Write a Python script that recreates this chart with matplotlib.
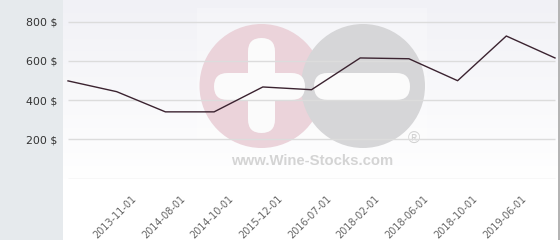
import numpy as np
import matplotlib
matplotlib.use("Agg")
import matplotlib.pyplot as plt
import matplotlib.transforms as mtransforms
from matplotlib.patches import Rectangle, Circle, FancyBboxPatch

# price history (one point per listing, equally spaced)
prices = [498, 443, 340, 340, 467, 453, 615, 611, 499, 727, 615]
date_labels = ["2013-11-01", "2014-08-01", "2014-10-01", "2015-12-01", "2016-07-01",
               "2018-02-01", "2018-06-01", "2018-10-01", "2019-06-01"]
y_ticks = [200, 400, 600, 800]
grid_levels = [0, 200, 400, 600, 800]

W, H = 560, 240
fig = plt.figure(figsize=(W / 100, H / 100), dpi=100)
fig.patch.set_facecolor("white")

# grey panel on the left behind the y labels
fig.patches.append(Rectangle((0, 0), 63 / W, 1, transform=fig.transFigure,
                             facecolor="#e6eaed", edgecolor="none", zorder=-1))
# thin border on the right
fig.patches.append(Rectangle((558 / W, 0), 1.5 / W, 1, transform=fig.transFigure,
                             facecolor="#b4b4b4", edgecolor="none", zorder=5))

ax = fig.add_axes([63 / W, 1 - 178.5 / H, (558 - 63) / W, 178.5 / H])
ax.set_facecolor("none")
n = len(prices)
x = np.arange(n)
ax.set_xlim(-5 / 48.7, (n - 1) + 3 / 48.7)
ax.set_ylim(0, 178.5 / 0.196)

# background gradient
grad = np.linspace(0, 1, 256).reshape(-1, 1)
cmap = matplotlib.colors.LinearSegmentedColormap.from_list("bg", ["#ffffff", "#f1f1f6"])
ax.imshow(grad, aspect="auto", cmap=cmap, extent=[0, 1, 0, 1],
          transform=ax.transAxes, origin="lower", zorder=0)

# watermark drawn in pixel coordinates
px = mtransforms.Affine2D().scale(1 / W, -1 / H).translate(0, 1) + fig.transFigure
ax.add_patch(Rectangle((197, 8), 230, 165, transform=px, facecolor="white",
                       edgecolor="none", alpha=0.25, zorder=1))
ax.add_patch(Circle((261.5, 86), 62, transform=px, facecolor="#ebd3da",
                    edgecolor="none", zorder=1))
ax.add_patch(Circle((363, 86), 62, transform=px, facecolor="#d6d6d8",
                    edgecolor="none", zorder=1.1))
for bx, by, bw, bh in [(248, 38, 27, 95), (214, 73, 91, 27), (314, 73, 96, 27)]:
    ax.add_patch(FancyBboxPatch((bx, by), bw, bh, transform=px,
                                boxstyle="round,pad=0,rounding_size=13.5",
                                facecolor="#fbfbfb", edgecolor="none", zorder=1.2))
ax.text(312.5, 161, "www.Wine-Stocks.com", transform=px, ha="center", va="center",
        fontsize=10.7, fontweight="bold", family="Liberation Sans", color="#d4d4d4", zorder=1.3)
ax.text(413.5, 139, "\u00ae", transform=px, ha="center", va="center",
        fontsize=12, family="Liberation Sans", color="#d2d2d2", zorder=1.3)

# grid lines span first to last point
ax.hlines(grid_levels, 0, n - 1, colors="#dcdcdc", linewidth=1, zorder=2)
ax.plot(x, prices, color="#3b2330", linewidth=1, zorder=3)

for s in ax.spines.values():
    s.set_visible(False)
ax.set_yticks(y_ticks)
ax.set_yticklabels([f"{v} $" for v in y_ticks], fontsize=7.9, color="#333333")
ax.tick_params(axis="y", length=0, pad=4)

ax.set_xticks(np.arange(1, n - 1) + 0.3)
ax.set_xticklabels(date_labels, rotation=45, ha="right", rotation_mode="anchor",
                   fontsize=7, color="#666666")
ax.tick_params(axis="x", length=0, pad=11)

fig.savefig("out.png", dpi=100)
